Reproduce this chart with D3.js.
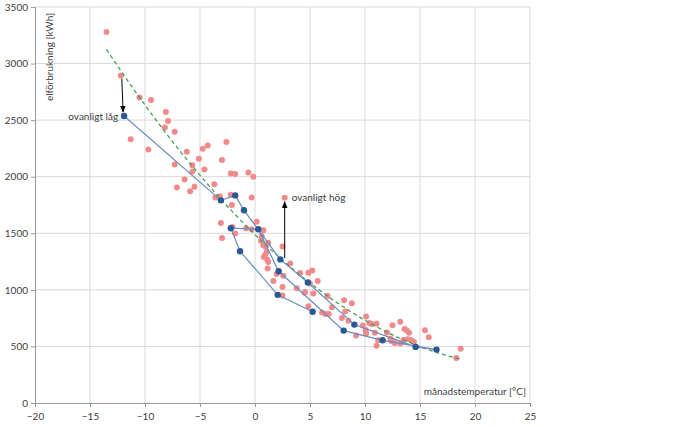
<!DOCTYPE html>
<html>
<head>
<meta charset="utf-8">
<script src="https://cdn.jsdelivr.net/npm/d3@7"></script>
<style>
  html, body { margin: 0; padding: 0; background: #fff; }
  svg { display: block; }
  text { font-family: Lato, "Open Sans", sans-serif; fill: #404040; }
</style>
</head>
<body>
<svg id="chart" width="700" height="427"></svg>
<script>
// ---- data ----
// historical months (pink): temperature [°C], consumption [kWh]
const histTemp = [-13.5,-12.2,-10.5,-9.45,-8.1,-7.9,-8.2,-7.3,-11.3,-9.7,
  -6.2,-4.75,-4.3,-2.6,-5.1,-3.0,-7.3,-5.7,-4.6,-5.7,
  -2.2,-1.8,-0.6,-0.15,-6.4,-3.7,-7.1,-5.5,-5.9,-3.6,
  -3.2,-2.2,-2.1,-0.3,-3.1,-3.0,-2.05,-1.8,-0.8,0.15,
  -0.3,0.76,0.6,1.2,0.76,0.97,1.06,0.8,1.2,0.55,
  2.5,2.7,3.2,1.15,1.97,2.57,1.67,2.5,2.5,3.8,
  4.1,4.85,5.2,5.0,5.7,4.5,5.3,4.85,6.6,7.0,
  6.1,6.4,6.7,7.9,8.1,8.2,8.8,8.5,9.2,10.1,
  9.8,10.06,10.1,10.4,10.6,11.05,10.9,11.2,11.05,12.0,
  12.5,13.2,13.6,13.8,14.0,12.3,12.4,12.7,13.2,13.5,
  13.9,14.2,14.45,15.45,15.8,18.7,18.3,1.1,0.9,4.55];
const histKwh = [3280,2892,2701,2677,2571,2492,2436,2397,2332,2241,
  2220,2247,2276,2306,2158,2147,2108,2102,2064,2043,
  2029,2023,2037,1999,1976,1934,1905,1911,1872,1817,
  1828,1840,1749,1817,1590,1459,1555,1498,1545,1601,
  1536,1527,1474,1416,1395,1380,1336,1291,1247,1433,
  1384,1814,1233,1189,1140,1125,1079,1026,950,1014,
  1150,1152,1172,1056,1078,975,968,856,945,847,
  799,787,787,752,908,808,882,728,597,764,
  684,645,614,706,698,700,621,554,506,623,
  687,718,655,640,621,570,548,531,525,560,
  563,554,540,643,581,480,398,1268,1306,982];

// selected period (blue), in month order
const selTemp = [-11.9,-3.1,-1.8,-1.0,2.3,4.8,9.03,14.6,16.5,11.6,8.06,2.15,0.3,-2.2,-1.36,2.06,5.24];
const selKwh  = [2536,1791,1835,1703,1269,1065,693,496,472,554,640,1164,1536,1545,1341,956,806];

const xTicks = [-20,-15,-10,-5,0,5,10,15,20,25];
const yTicks = [0,500,1000,1500,2000,2500,3000,3500];

const annotations = [
  {label: "ovanligt låg", from: [-12.2, 2892], to: [-11.9, 2536]},
  {label: "ovanligt hög", from: [2.7, 1280], to: [2.7, 1814]}
];

// ---- layout ----
const svg = d3.select("#chart");
const margin = {left: 35, top: 7, right: 170, bottom: 24};
const W = 700, H = 427;
const x = d3.scaleLinear().domain([-20, 25]).range([margin.left, W - margin.right]);
const y = d3.scaleLinear().domain([0, 3500]).range([H - margin.bottom, margin.top]);

// grid
svg.append("g").selectAll("line.v").data(xTicks.slice(1)).join("line")
  .attr("x1", d => x(d)).attr("x2", d => x(d))
  .attr("y1", y(0)).attr("y2", y(3500))
  .attr("stroke", "#d9d9d9").attr("stroke-width", 1);
svg.append("g").selectAll("line.h").data(yTicks.slice(1)).join("line")
  .attr("x1", x(-20)).attr("x2", x(25))
  .attr("y1", d => y(d)).attr("y2", d => y(d))
  .attr("stroke", "#d9d9d9").attr("stroke-width", 1);

// axes
const xAxis = svg.append("g").attr("transform", `translate(0,${y(0)})`)
  .call(d3.axisBottom(x).tickValues(xTicks).tickSize(4).tickPadding(4).tickFormat(d3.format("d")));
const yAxis = svg.append("g").attr("transform", `translate(${x(-20)},0)`)
  .call(d3.axisLeft(y).tickValues(yTicks).tickSize(4).tickPadding(3).tickFormat(d3.format("d")));
[xAxis, yAxis].forEach(g => {
  g.select(".domain").attr("stroke", "#999");
  g.selectAll(".tick line").attr("stroke", "#999");
  g.selectAll("text").style("font-family", "Lato, sans-serif").style("font-size", "10px").attr("fill", "#404040");
});
xAxis.selectAll("text").attr("dy", "0.9em");

// axis titles
svg.append("text").attr("transform", `translate(${x(-20) + 14},${y(3500) + 6}) rotate(-90)`)
  .attr("text-anchor", "end").attr("dy", "0.35em")
  .style("font-size", "10px").text("elförbrukning [kWh]");
svg.append("text").attr("x", x(25) - 4).attr("y", y(0) - 8)
  .attr("text-anchor", "end").style("font-size", "10px").text("månadstemperatur [°C]");

// pink historical points
const hist = histTemp.map((t, i) => ({t, v: histKwh[i]}));
svg.append("g").selectAll("circle").data(hist).join("circle")
  .attr("cx", d => x(d.t)).attr("cy", d => y(d.v)).attr("r", 3)
  .attr("fill", "#f28a8c");

// quadratic trendline fitted to the historical points
function fitQuad(xs, ys) {
  const n = xs.length;
  let s = [0,0,0,0,0], sy = [0,0,0];
  for (let i = 0; i < n; i++) {
    let p = 1;
    for (let k = 0; k < 5; k++) { s[k] += p; if (k < 3) sy[k] += p * ys[i]; p *= xs[i]; }
  }
  const A = [[s[0], s[1], s[2], sy[0]], [s[1], s[2], s[3], sy[1]], [s[2], s[3], s[4], sy[2]]];
  for (let i = 0; i < 3; i++) {
    for (let j = i + 1; j < 3; j++) {
      const f = A[j][i] / A[i][i];
      for (let k = i; k < 4; k++) A[j][k] -= f * A[i][k];
    }
  }
  const c = [0,0,0];
  for (let i = 2; i >= 0; i--) {
    let sum = A[i][3];
    for (let k = i + 1; k < 3; k++) sum -= A[i][k] * c[k];
    c[i] = sum / A[i][i];
  }
  return c;
}
const coef = fitQuad(histTemp, histKwh);
const ext = d3.extent(histTemp);
const trendPts = d3.range(ext[0], ext[1] + 0.001, (ext[1] - ext[0]) / 80)
  .map(t => [t, coef[0] + coef[1] * t + coef[2] * t * t]);
svg.append("path").datum(trendPts)
  .attr("d", d3.line().x(d => x(d[0])).y(d => y(d[1])))
  .attr("fill", "none").attr("stroke", "#3a9a4a").attr("stroke-width", 1.2)
  .attr("stroke-dasharray", "4,3");

// blue selected period
const sel = selTemp.map((t, i) => ({t, v: selKwh[i]}));
svg.append("path").datum(sel)
  .attr("d", d3.line().x(d => x(d.t)).y(d => y(d.v)))
  .attr("fill", "none").attr("stroke", "#6a8cc0").attr("stroke-width", 1.2);
svg.append("g").selectAll("circle").data(sel).join("circle")
  .attr("cx", d => x(d.t)).attr("cy", d => y(d.v)).attr("r", 3.2)
  .attr("fill", "#2a5a94");

// annotations
const defs = svg.append("defs");
defs.append("marker").attr("id", "arr").attr("viewBox", "0 0 10 10")
  .attr("refX", 9).attr("refY", 5).attr("markerWidth", 7).attr("markerHeight", 7)
  .attr("orient", "auto-start-reverse")
  .append("path").attr("d", "M0,1 L10,5 L0,9 z").attr("fill", "#000");
annotations.forEach((a, i) => {
  svg.append("line")
    .attr("x1", x(a.from[0]) + (i === 0 ? 1 : 0)).attr("y1", y(a.from[1]) + (i === 0 ? 3 : 0))
    .attr("x2", x(a.to[0]) + (i === 0 ? -1 : 0)).attr("y2", y(a.to[1]) + (i === 0 ? -4 : 4))
    .attr("stroke", "#000").attr("stroke-width", 1).attr("marker-end", "url(#arr)");
});
svg.append("text").attr("x", x(annotations[0].to[0]) - 6).attr("y", y(annotations[0].to[1]))
  .attr("dy", "0.35em").attr("text-anchor", "end").style("font-size", "10px").text(annotations[0].label);
svg.append("text").attr("x", x(annotations[1].to[0]) + 7).attr("y", y(annotations[1].to[1]))
  .attr("dy", "0.35em").attr("text-anchor", "start").style("font-size", "10px").text(annotations[1].label);
</script>
</body>
</html>
